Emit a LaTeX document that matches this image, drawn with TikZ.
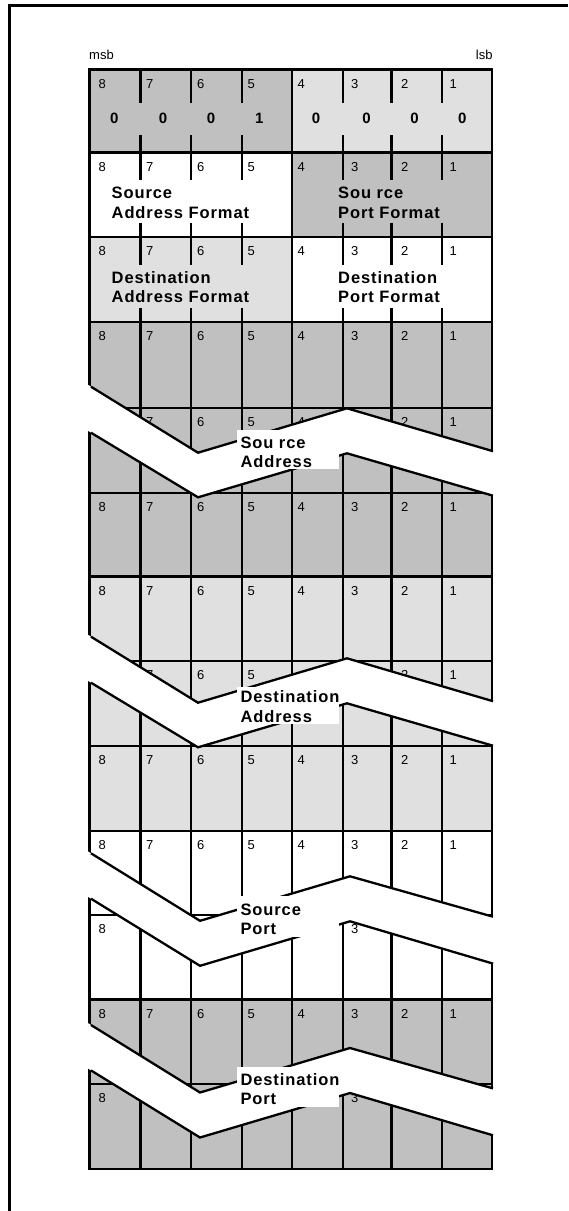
\documentclass[tikz,border=0pt]{standalone}
\usepackage{fontspec}
\setmainfont{Liberation Sans}
\newfontfamily\labfont{Liberation Sans}[LetterSpace=5.5]
\definecolor{dk}{HTML}{C0C0C0}
\definecolor{lt}{HTML}{E0E0E0}
\begin{document}
\begin{tikzpicture}[x=1pt,y=-1pt,line join=miter,
  gl/.style={line width=2.3pt},
  bandedge/.style={line width=2.3pt},
  frameline/.style={line width=2.8pt},
  dig/.style={font=\fontsize{13}{15}\selectfont,anchor=base west,inner sep=0pt},
  val/.style={font=\fontsize{15}{17}\selectfont\bfseries,anchor=base,inner sep=0pt},
  lab/.style={font={\labfont\bfseries\fontsize{16.5}{19}\selectfont},anchor=base west,inner sep=0pt}]
\useasboundingbox (0,0) rectangle (568,1211);
% page frame
\draw[frameline] (9.5,1211) -- (9.5,5.3) -- (568,5.3);
% fills
\fill[dk] (89.5,69.5) rectangle (292.3,152.5);
\fill[lt] (292.3,69.5) rectangle (492,152.5);
\fill[dk] (292.3,152.5) rectangle (492,237);
\fill[lt] (89.5,237) rectangle (292.3,322.3);
\fill[dk] (89.5,322.3) rectangle (492,576.5);
\fill[lt] (89.5,576.5) rectangle (492,831);
\fill[dk] (89.5,999.5) rectangle (492,1169.3);
% grid lines
\draw[gl] (89.5,69.5) rectangle (492,1169.3);
\foreach \y in {152.5,237,322.3,408,492.7,576.5,660.7,745.7,831,915,999.5,1084.3}
  \draw[gl] (89.5,\y) -- (492,\y);
\draw[gl] (292.3,69.5) -- (292.3,1169.3);
\foreach \x in {140.5,191.3,242,342.8,391.5,442} {
  \draw[gl] (\x,322.3) -- (\x,1169.3);
  \draw[gl] (\x,69.5) -- (\x,102.7);
  \draw[gl] (\x,135) -- (\x,152.5);
  \draw[gl] (\x,152.5) -- (\x,180);
  \draw[gl] (\x,222.7) -- (\x,237);
  \draw[gl] (\x,237) -- (\x,265);
  \draw[gl] (\x,308.3) -- (\x,322.3);
}
% bit numbers (only those the picture shows)
\foreach \y/\r in {69.5/1,152.5/2,237/3,322.3/4,492.7/6,576.5/7,745.7/9,831/10,999.5/12}
  \foreach \d/\x in {8/98.3,7/146,6/197,5/247.5,4/297.5,3/350.8,2/400.8,1/449.5}
    \node[dig] (b\r-\d) at (\x,\y+18.5) {\d};
\foreach \d/\x in {7/146,6/197,5/247.5,4/297.5,2/400.8,1/449.5}
  \node[dig] (b5-\d) at (\x,408+18.5) {\d};
\foreach \d/\x in {7/146,6/197,5/247.5,2/400.8,1/449.5}
  \node[dig] (b8-\d) at (\x,660.7+18.5) {\d};
\foreach \y/\r in {915/11,1084.3/13}
  \foreach \d/\x in {8/98.3,3/350.8}
    \node[dig] (b\r-\d) at (\x,\y+18.5) {\d};
% values of first octet
\foreach \v/\x [count=\i] in {0/114.3,0/163,0/211,1/259.4,0/316,0/366.5,0/414.5,0/462.4}
  \node[val] (v\i) at (\x,123.5) {\v};
% format labels
\node[lab] (saf1) at (111.5,198.9) {Source};
\node[lab] (saf2) at (111.5,218) {Address Format};
\node[lab] (spf1) at (338,198.9) {Sou rce};
\node[lab] (spf2) at (338,218) {Port Format};
\node[lab] (daf1) at (111.5,283.3) {Destination};
\node[lab] (daf2) at (111.5,302.3) {Address Format};
\node[lab] (dpf1) at (338,283.3) {Destination};
\node[lab] (dpf2) at (338,302.3) {Port Format};
% break bands
\foreach \yb/\xv/\xp/\ub/\uc/\ud/\la/\lb/\lc/\ld in {
  386.7/198/347/66/21.6/64.5/46/110.6/66.6/109,
  636.7/198/347/66/21.6/64.5/46/110.6/66.6/109,
  853.3/200/350/67.5/23/63.4/45.4/112.5/68/110.3,
  1025/200/350/67.5/23/63.4/45.4/112.5/68/110.3} {
  \fill[white] (87.5,\yb-2.2) -- (\xv,\yb+\ub) -- (\xp,\yb+\uc) -- (494.5,\yb+\ud+1)
     -- (494.5,\yb+\ld+1) -- (\xp,\yb+\lc) -- (\xv,\yb+\lb) -- (87.5,\yb+\la-2.2) -- cycle;
  \draw[bandedge] (91,\yb) -- (\xv,\yb+\ub) -- (\xp,\yb+\uc) -- (493,\yb+\ud);
  \draw[bandedge] (91,\yb+\la) -- (\xv,\yb+\lb) -- (\xp,\yb+\lc) -- (493,\yb+\ld);
}
% band labels
\fill[white] (236.7,430) rectangle (339.3,469.3);
\node[lab] (sa1) at (240.3,448.3) {Sou rce};
\node[lab] (sa2) at (240.3,467.3) {Address};
\fill[white] (236.7,686.7) rectangle (339.3,724);
\node[lab] (da1) at (240.3,702.5) {Destination};
\node[lab] (da2) at (240.3,722.5) {Address};
\fill[white] (236.7,896) rectangle (339.3,937.3);
\node[lab] (sp1) at (240.3,915.3) {Source};
\node[lab] (sp2) at (240.3,934) {Port};
\fill[white] (236.7,1067.3) rectangle (339.3,1106.7);
\node[lab] (dp1) at (240.3,1085) {Destination};
\node[lab] (dp2) at (240.3,1104) {Port};
% msb / lsb
\node[dig] (msb) at (89,59.5) {msb};
\node[dig,anchor=base east] (lsb) at (492.7,59.5) {lsb};
\end{tikzpicture}
\end{document}
